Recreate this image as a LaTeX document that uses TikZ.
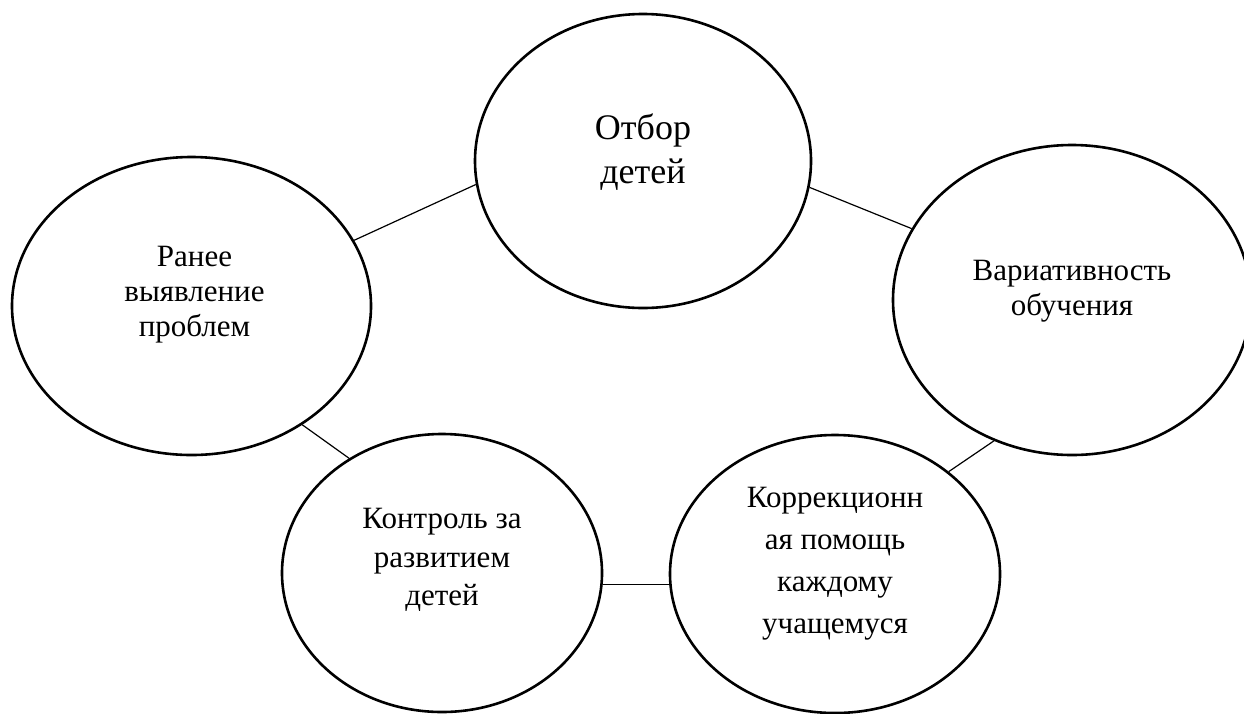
\documentclass[tikz,border=0pt]{standalone}
\usepackage{fontspec}
\setmainfont{Liberation Serif}
\usetikzlibrary{shapes.geometric}
\definecolor{InkBlack}{HTML}{000000}
\tikzset{
  oval/.style={draw=InkBlack, line width=2.6pt, ellipse, inner sep=0pt, fill=white},
  lbl/.style={align=center, text=InkBlack, inner sep=0pt, font=\fontsize{31}{36}\selectfont},
  link/.style={draw=InkBlack, line width=1.2pt}
}
\begin{document}
\begin{tikzpicture}[x=1pt, y=-1pt]
\useasboundingbox (0,0) rectangle (1244,713);
\node[oval, minimum width=336pt, minimum height=294pt] (otbor) at (643,161) {};
\node[oval, minimum width=359pt, minimum height=298pt] (rannee) at (191.5,306) {};
\node[oval, minimum width=358pt, minimum height=310pt] (variat) at (1072,300) {};
\node[oval, minimum width=320pt, minimum height=278pt] (kontrol) at (442,573) {};
\node[oval, minimum width=330pt, minimum height=278pt] (korr) at (835,574) {};
\node[lbl, font=\fontsize{36}{44}\selectfont] (otbor-t) at ([yshift=9pt]otbor.center) {Отбор\\детей};
\node[lbl, font=\fontsize{31}{35}\selectfont] (rannee-t) at ([xshift=3pt, yshift=11pt]rannee.center) {Ранее\\выявление\\проблем};
\node[lbl, font=\fontsize{31}{35}\selectfont] (variat-t) at ([yshift=9pt]variat.center) {Вариативность\\обучения};
\node[lbl, font=\fontsize{31}{38.5}\selectfont] (kontrol-t) at ([yshift=13pt]kontrol.center) {Контроль за\\развитием\\детей};
\node[lbl, font=\fontsize{31}{42}\selectfont] (korr-t) at ([yshift=10pt]korr.center) {Коррекционн\\ая помощь\\каждому\\учащемуся};
\draw[link] (rannee.22.8) -- (otbor.188.9);
\draw[link] (otbor.351.2) -- (variat.156.4);
\draw[link] (rannee.313.6) -- (kontrol.129.2);
\draw[link] (kontrol.356) -- (kontrol.356 -| korr.west);
\draw[link] (korr.42.6) -- (variat.241.3);
\end{tikzpicture}
\end{document}
